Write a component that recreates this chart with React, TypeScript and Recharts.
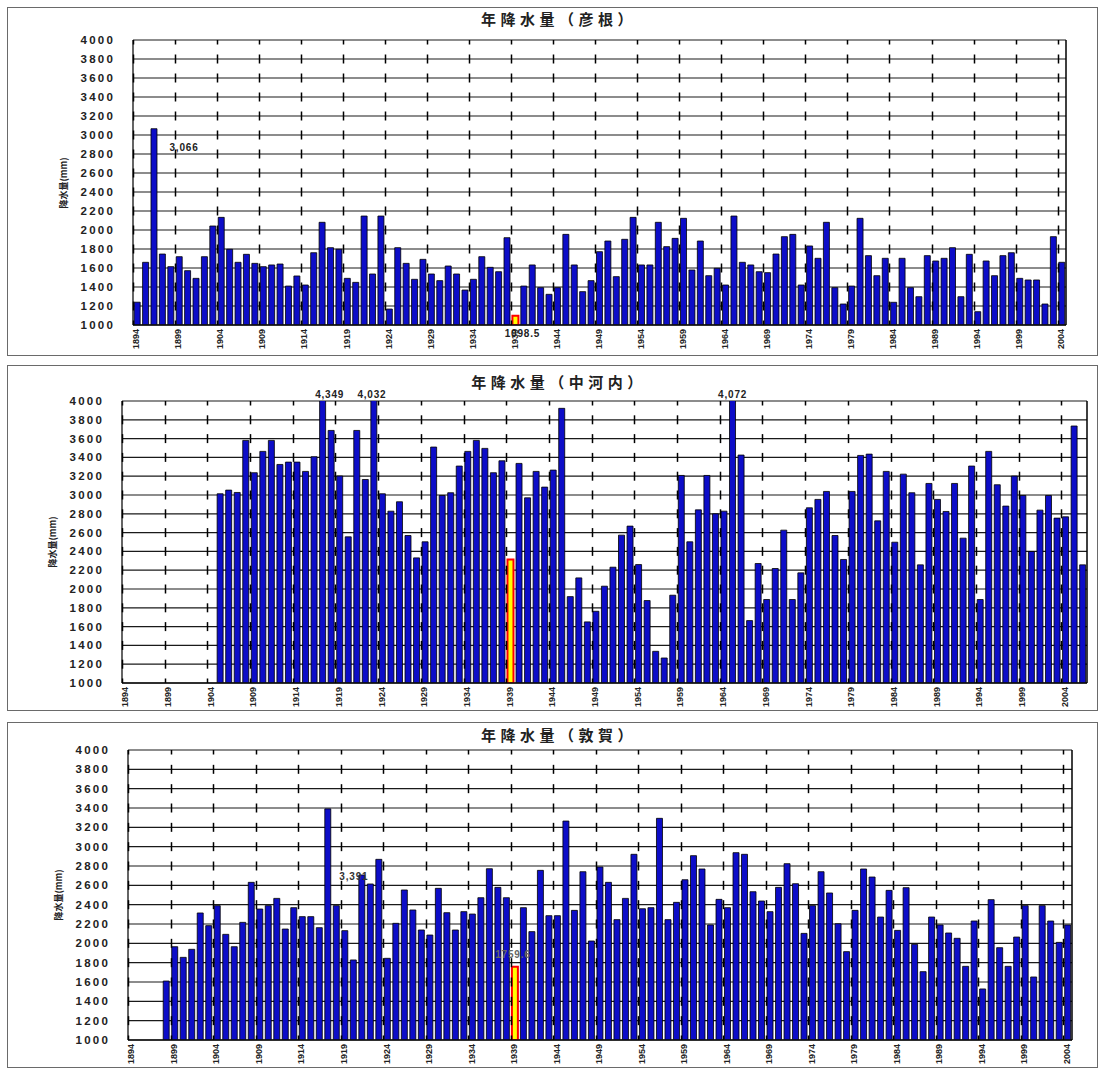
import React from "react";
import {
  BarChart,
  Bar,
  XAxis,
  YAxis,
  CartesianGrid,
  Cell,
  ReferenceDot,
} from "recharts";

// categories
const YEARS_HIKONE = Array.from({ length: 111 }, (_, i) => 1894 + i); // 1894-2004
const YEARS_NAKA = Array.from({ length: 113 }, (_, i) => 1894 + i); // 1894-2006
const YEARS_TSURUGA = Array.from({ length: 111 }, (_, i) => 1894 + i); // 1894-2004

const LABEL_YEARS = [
  1894, 1899, 1904, 1909, 1914, 1919, 1924, 1929, 1934, 1939, 1944, 1949,
  1954, 1959, 1964, 1969, 1974, 1979, 1984, 1989, 1994, 1999, 2004,
];
const Y_TICKS = [
  1000, 1200, 1400, 1600, 1800, 2000, 2200, 2400, 2600, 2800, 3000, 3200,
  3400, 3600, 3800, 4000,
];
const DROUGHT_YEAR = 1939;

// 年降水量 (mm)
const HIKONE = [
  1240, 1660, 3066, 1747, 1614, 1719, 1572, 1491, 1719, 2042, 2133, 1797,
  1660, 1744, 1649, 1614, 1632, 1642, 1410, 1516, 1421, 1761, 2081, 1814,
  1797, 1491, 1449, 2147, 1537, 2147, 1168, 1814, 1649, 1481, 1691, 1537,
  1467, 1621, 1537, 1368, 1481, 1719, 1607, 1561, 1919, 1098.5, 1410, 1632,
  1393, 1323, 1393, 1954, 1632, 1351, 1467, 1772, 1884, 1509, 1902, 2133,
  1632, 1632, 2081, 1825, 1912, 2123, 1579, 1884, 1519, 1597, 1421, 2147,
  1660, 1632, 1561, 1551, 1747, 1930, 1954, 1421, 1832, 1702, 2081, 1393,
  1221, 1410, 2123, 1730, 1519, 1702, 1239, 1702, 1393, 1298, 1730, 1674,
  1702, 1814, 1298, 1744, 1140, 1674, 1519, 1730, 1761, 1491, 1474, 1474,
  1221, 1930, 1660,
];

const NAKANOKAWACHI = [
  null, null, null, null, null, null, null, null, null, null, null, 3013,
  3052, 3027, 3581, 3237, 3464, 3581, 3325, 3350, 3350, 3251, 3407, 4349,
  3687, 3202, 2555, 3687, 3165, 4032, 3013, 2828, 2928, 2569, 2331, 2502,
  3510, 2995, 3024, 3308, 3464, 3581, 3496, 3237, 3364, 2314, 3336, 2970,
  3251, 3084, 3265, 3922, 1919, 2118, 1650, 1763, 2030, 2232, 2573, 2669,
  2260, 1877, 1337, 1266, 1934, 3208, 2502, 2842, 3208, 2800, 2828, 4072,
  3425, 1664, 2271, 1888, 2218, 2626, 1888, 2172, 2864, 2953, 3038, 2569,
  2314, 3038, 3421, 3435, 2725, 3251, 2498, 3222, 3024, 2257, 3123, 2953,
  2825, 3123, 2541, 3308, 1888, 3464, 3109, 2882, 3201, 2995, 2399, 2839,
  2995, 2754, 2768, 3734, 2257,
];

const TSURUGA = [
  null, null, null, null, 1610, 1965, 1855, 1938, 2314, 2183, 2390, 2093,
  1965, 2217, 2631, 2355, 2390, 2465, 2148, 2369, 2276, 2276, 2162, 3391,
  2390, 2131, 1828, 2707, 2614, 2869, 1845, 2207, 2552, 2345, 2138, 2086,
  2569, 2317, 2138, 2328, 2303, 2472, 2772, 2579, 2472, 1759, 2369, 2121,
  2755, 2286, 2286, 3265, 2341, 2741, 2024, 2790, 2631, 2245, 2465, 2921,
  2358, 2369, 3293, 2245, 2424, 2658, 2907, 2769, 2190, 2455, 2369, 2938,
  2921, 2534, 2438, 2328, 2579, 2824, 2617, 2103, 2390, 2741, 2521, 2203,
  1914, 2341, 2769, 2686, 2272, 2548, 2134, 2576, 1990, 1707, 2272, 2190,
  2107, 2052, 1762, 2231, 1528, 2452, 1955, 1762, 2065, 2390, 1652, 2390,
  2231, 2010, 2190,
];

// callouts: anchor year/value, text, offset of the text from the anchor
const HIKONE_NOTES = [
  { year: 1896, value: 3066, text: "3,066", dx: 30, dy: 19, bg: false, color: "#222" },
  { year: 1939, value: 1000, text: "1098.5", dx: 7, dy: 8, bg: true, color: "#222" },
];
const NAKA_NOTES = [
  { year: 1917, value: 4000, text: "4,349", dx: 7, dy: -7, bg: true, color: "#222" },
  { year: 1923, value: 4000, text: "4,032", dx: -2, dy: -7, bg: true, color: "#222" },
  { year: 1965, value: 4000, text: "4,072", dx: 0, dy: -7, bg: true, color: "#222" },
];
const TSURUGA_NOTES = [
  { year: 1917, value: 3391, text: "3,391", dx: 26, dy: 68, bg: false, color: "#333" },
  { year: 1939, value: 1759, text: "1759.6", dx: -2, dy: -12, bg: false, color: "#666" },
];

const PAGE_LEFT = 7;
const PAGE_W = 1091;
const YAXIS_W = 60;
const XAXIS_H = 28;
const FONT = "'Liberation Sans', Arial, sans-serif";

const PANELS = [
  {
    title: "年降水量（彦根）",
    years: YEARS_HIKONE,
    values: HIKONE,
    notes: HIKONE_NOTES,
    top: 7,
    height: 349,
    plotLeft: 133,
    plotRight: 1066,
    plotTop: 40,
    plotBottom: 325,
    titleY: 18,
  },
  {
    title: "年降水量（中河内）",
    years: YEARS_NAKA,
    values: NAKANOKAWACHI,
    notes: NAKA_NOTES,
    top: 365,
    height: 346,
    plotLeft: 122,
    plotRight: 1087,
    plotTop: 401,
    plotBottom: 683,
    titleY: 381,
  },
  {
    title: "年降水量（敦賀）",
    years: YEARS_TSURUGA,
    values: TSURUGA,
    notes: TSURUGA_NOTES,
    top: 722,
    height: 346,
    plotLeft: 128,
    plotRight: 1072,
    plotTop: 750,
    plotBottom: 1040,
    titleY: 734,
  },
];

function Note(props: any) {
  const { cx, cy, note } = props;
  if (cx == null || cy == null) return null;
  const tx = cx + note.dx;
  const ty = cy + note.dy;
  const w = note.text.length * 6.5 + 6;
  return (
    <g>
      {note.bg && (
        <rect x={tx - w / 2} y={ty - 6} width={w} height={12} fill="#fff" />
      )}
      <text
        x={tx}
        y={ty}
        dy="0.35em"
        textAnchor="middle"
        fontSize={10}
        fontWeight={700}
        letterSpacing={0.8}
        fontFamily={FONT}
        fill={note.color}
      >
        {note.text}
      </text>
    </g>
  );
}

function Panel({ cfg }: { cfg: (typeof PANELS)[number] }) {
  const { years, values, notes, top, height, plotLeft, plotRight, plotTop, plotBottom } = cfg;
  const margin = {
    left: plotLeft - PAGE_LEFT - YAXIS_W,
    right: PAGE_LEFT + PAGE_W - plotRight,
    top: plotTop - top,
    bottom: top + height - plotBottom - XAXIS_H,
  };
  const band = (plotRight - plotLeft) / years.length;
  const cell = (plotBottom - plotTop) / (Y_TICKS.length - 1);
  const half = 4.5; // half length of a dash, centred on each horizontal grid line
  const data = years.map((year, i) => ({ year, value: values[i] }));

  // dashed year lines (start of each labelled year's band) drawn over the bars, like the original
  const x0 = plotLeft - PAGE_LEFT;
  const y0 = plotTop - top;
  const y1 = plotBottom - top;
  const dashX = LABEL_YEARS.map((y) => Math.round(x0 + years.indexOf(y) * band) + 0.5);
  const dashY = Y_TICKS.map((_, k) => y0 + k * cell);
  const xEnd = Math.round(x0 + years.length * band);

  return (
    <>
      <div
        style={{
          position: "absolute",
          left: PAGE_LEFT,
          top,
          width: PAGE_W - 2,
          height: height - 2,
          border: "1px solid #6a6a6a",
        }}
      />
      <div
        style={{
          position: "absolute",
          left: 559,
          top: cfg.titleY,
          transform: "translate(-50%, -50%)",
          fontFamily: "'Noto Sans CJK JP', sans-serif",
          fontWeight: 700,
          fontSize: 15,
          letterSpacing: "4.5px",
          whiteSpace: "nowrap",
          color: "#222",
        }}
      >
        {cfg.title}
      </div>
      <div
        style={{
          position: "absolute",
          left: plotLeft - 70,
          top: (plotTop + plotBottom) / 2,
          transform: "translate(-50%, -50%) rotate(-90deg)",
          fontFamily: "'Noto Sans CJK JP', sans-serif",
          fontWeight: 700,
          fontSize: 9,
          whiteSpace: "nowrap",
          color: "#222",
        }}
      >
        降水量(mm)
      </div>
      <div style={{ position: "absolute", left: PAGE_LEFT, top }}>
        <BarChart width={PAGE_W} height={height} data={data} margin={margin} barCategoryGap="14%">
          <CartesianGrid vertical={false} stroke="#1a1a1a" strokeWidth={1.2} />
          <XAxis
            dataKey="year"
            interval={4}
            tickLine={false}
            tickSize={0}
            tickMargin={4}
            height={XAXIS_H}
            axisLine={{ stroke: "#111", strokeWidth: 1.3 }}
            tick={{
              angle: -90,
              textAnchor: "end",
              verticalAnchor: "middle",
              dx: -band / 2,
              fontSize: 9,
              fontWeight: 700,
              fill: "#222",
              fontFamily: "'Liberation Sans Narrow', 'Liberation Sans', Arial, sans-serif",
            }}
          />
          <YAxis
            width={YAXIS_W}
            domain={[1000, 4000]}
            ticks={Y_TICKS}
            interval={0}
            allowDataOverflow
            tickLine={false}
            tickMargin={12}
            axisLine={{ stroke: "#111", strokeWidth: 1.3 }}
            tick={{
              fontSize: 11.5,
              fontWeight: 700,
              fill: "#222",
              fontFamily: FONT,
              letterSpacing: 2.2,
            }}
          />
          <Bar dataKey="value" isAnimationActive={false} stroke="#000" strokeWidth={0.8}>
            {data.map((d) => (
              <Cell
                key={d.year}
                fill={d.year === DROUGHT_YEAR ? "#ffff00" : "#0d0dc8"}
                stroke={d.year === DROUGHT_YEAR ? "#ff0000" : "#000"}
                strokeWidth={d.year === DROUGHT_YEAR ? 2 : 0.8}
              />
            ))}
          </Bar>
          {notes.map((n) => (
            <ReferenceDot
              key={n.text}
              x={n.year}
              y={n.value}
              r={0}
              ifOverflow="visible"
              shape={(p: any) => <Note {...p} note={n} />}
            />
          ))}
        </BarChart>
      </div>
      <svg
        width={PAGE_W}
        height={height}
        style={{ position: "absolute", left: PAGE_LEFT, top, pointerEvents: "none" }}
      >
        {dashX.map((x, i) =>
          dashY.map((y, k) => (
            <rect
              key={`${i}-${k}`}
              x={x - 0.75}
              y={Math.max(y0, y - half)}
              width={1.5}
              height={Math.min(y1, y + half) - Math.max(y0, y - half)}
              fill="#000"
            />
          ))
        )}
        <rect x={xEnd - 0.75} y={y0} width={1.5} height={y1 - y0} fill="#000" />
      </svg>
    </>
  );
}

export default function App() {
  return (
    <div
      style={{
        position: "absolute",
        left: 0,
        top: 0,
        width: 1099,
        height: 1068,
        background: "#fff",
        overflow: "hidden",
      }}
    >
      {PANELS.map((cfg) => (
        <Panel key={cfg.title} cfg={cfg} />
      ))}
    </div>
  );
}
